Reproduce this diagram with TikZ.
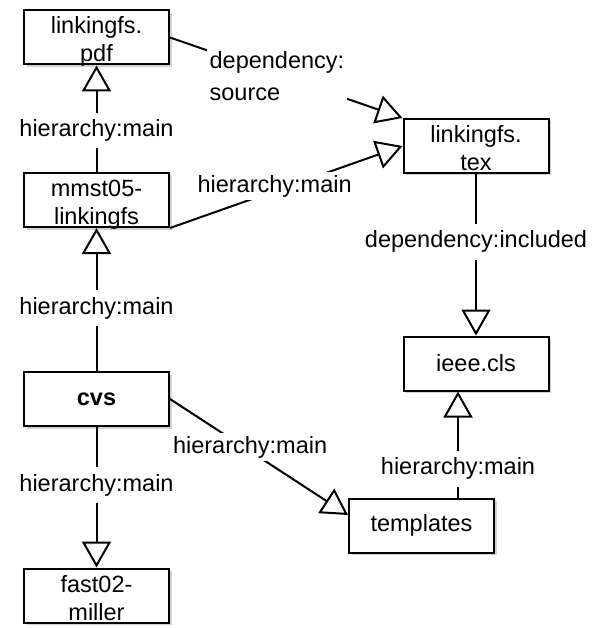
\documentclass[tikz,border=0pt]{standalone}
\usepackage{fontspec}
\setmainfont{Liberation Sans}
\usetikzlibrary{arrows.meta,shadows}
\begin{document}
\begin{tikzpicture}[x=1pt,y=-1pt,
  box/.style={draw, line width=2pt, fill=white, minimum width=145pt, minimum height=54pt,
    inner sep=0pt, align=center, font=\fontsize{23.5}{27}\selectfont,
    drop shadow={shadow xshift=2.5pt,shadow yshift=-2.5pt,fill=black!35}},
  twoline/.style={text height=49pt, text depth=0pt},
  lbl/.style={fill=white, inner xsep=3pt, inner ysep=7pt, font=\fontsize{23.5}{29}\selectfont},
  conn/.style={line width=2pt, -{Triangle[open,length=26pt,width=29pt,line width=2pt]}}]
\useasboundingbox (0,0) rectangle (595,628);
\node[box,twoline] (pdf)  at (96.5,37.5)  {linkingfs.\\[1pt]pdf};
\node[box,twoline] (mmst) at (96.5,200)   {mmst05-\\[1pt]linkingfs};
\node[box] (cvs)  at (96.5,399)   {\bfseries cvs};
\node[box,twoline] (fast) at (96.5,595.5) {fast02-\\[1pt]miller};
\node[box,twoline] (tex)  at (476,146)    {linkingfs.\\[1pt]tex};
\node[box] (ieee) at (476,363.5)  {ieee.cls};
\node[box] (tpl)  at (421.5,525.5){templates};
\coordinate (tplin) at ([yshift=10.5pt]tpl.west);
\coordinate (tplup) at ([xshift=-18pt]ieee.south |- tpl.north);
\coordinate (ieeein) at ([xshift=-18pt]ieee.south);
\draw[conn] (mmst.north) -- node[lbl,pos=0.39]{hierarchy:main} (pdf.south);
\draw[conn] (cvs.north) -- node[lbl,pos=0.44]{hierarchy:main} (mmst.south);
\draw[conn] (cvs.south) -- node[lbl,pos=0.415]{hierarchy:main} (fast.north);
\draw[conn] (pdf.east) -- node[lbl,pos=0.46,yshift=-2pt,align=left,inner ysep=3pt]{dependency:\\[3pt]source} (tex.north west);
\draw[conn] (mmst.south east) -- node[lbl,pos=0.45,yshift=5pt,inner ysep=3pt]{hierarchy:main} (tex.west);
\draw[conn] (cvs.east) -- node[lbl,pos=0.45,yshift=4pt,inner ysep=3pt]{hierarchy:main} (tplin);
\draw[conn] (tex.south) -- node[lbl,pos=0.42]{dependency:included} (ieee.north);
\draw[conn] (tplup) -- node[lbl,pos=0.27]{hierarchy:main} (ieeein);
\end{tikzpicture}
\end{document}
